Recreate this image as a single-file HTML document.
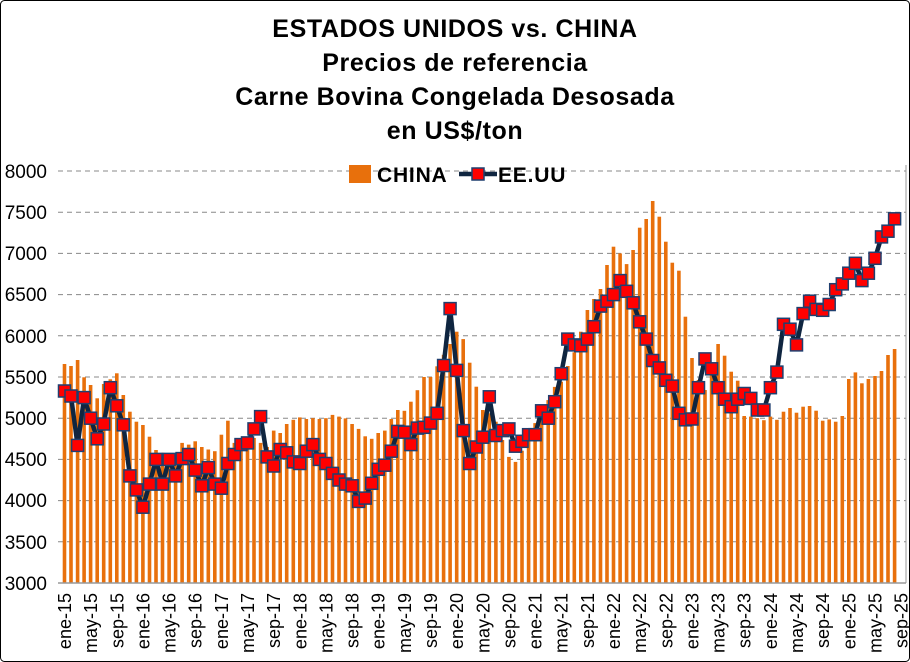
<!DOCTYPE html>
<html><head><meta charset="utf-8"><style>
html,body{margin:0;padding:0;background:#fff}
svg{display:block}
text{font-family:"Liberation Sans",Arial,sans-serif}
</style></head><body>
<svg id="s" width="910" height="662" viewBox="0 0 910 662" xmlns="http://www.w3.org/2000/svg">
<rect x="0.5" y="0.5" width="909" height="661" rx="4" fill="#fff" stroke="#000" stroke-width="1"/>
<g font-weight="bold" font-size="25" text-anchor="middle" fill="#000" letter-spacing="0.6">
<text x="455" y="37">ESTADOS UNIDOS vs. CHINA</text>
<text x="455" y="71">Precios de referencia</text>
<text x="455" y="105">Carne Bovina Congelada Desosada</text>
<text x="455" y="139">en US$/ton</text>
</g>
<g id="grid" stroke="#888" stroke-width="1" stroke-dasharray="5,4"></g>
<g id="bars" fill="#E8700C"></g>
<line x1="58" y1="583" x2="906" y2="583" stroke="#999" stroke-width="1.5"/>
<line x1="906" y1="165" x2="906" y2="583" stroke="#999" stroke-width="1"/>
<polyline id="line" fill="none" stroke="#0f2540" stroke-width="4.5" stroke-linejoin="round"/>
<g id="marks" fill="#f00" stroke="#1f3f6f" stroke-width="1.5"></g>
<g font-size="19" text-anchor="end" fill="#000">
<text x="47" y="178">8000</text><text x="47" y="219">7500</text><text x="47" y="260">7000</text>
<text x="47" y="301">6500</text><text x="47" y="343">6000</text><text x="47" y="384">5500</text>
<text x="47" y="425">5000</text><text x="47" y="466">4500</text><text x="47" y="507">4000</text>
<text x="47" y="549">3500</text><text x="47" y="590">3000</text>
</g>
<g font-size="18" text-anchor="end" fill="#000">
<text transform="translate(71,593) rotate(-90)">ene-15</text>
<text transform="translate(97.1,593) rotate(-90)">may-15</text>
<text transform="translate(123.3,593) rotate(-90)">sep-15</text>
<text transform="translate(149.4,593) rotate(-90)">ene-16</text>
<text transform="translate(175.6,593) rotate(-90)">may-16</text>
<text transform="translate(201.7,593) rotate(-90)">sep-16</text>
<text transform="translate(227.9,593) rotate(-90)">ene-17</text>
<text transform="translate(254,593) rotate(-90)">may-17</text>
<text transform="translate(280.2,593) rotate(-90)">sep-17</text>
<text transform="translate(306.3,593) rotate(-90)">ene-18</text>
<text transform="translate(332.4,593) rotate(-90)">may-18</text>
<text transform="translate(358.6,593) rotate(-90)">sep-18</text>
<text transform="translate(384.7,593) rotate(-90)">ene-19</text>
<text transform="translate(410.9,593) rotate(-90)">may-19</text>
<text transform="translate(437,593) rotate(-90)">sep-19</text>
<text transform="translate(463.2,593) rotate(-90)">ene-20</text>
<text transform="translate(489.3,593) rotate(-90)">may-20</text>
<text transform="translate(515.4,593) rotate(-90)">sep-20</text>
<text transform="translate(541.6,593) rotate(-90)">ene-21</text>
<text transform="translate(567.7,593) rotate(-90)">may-21</text>
<text transform="translate(593.9,593) rotate(-90)">sep-21</text>
<text transform="translate(620,593) rotate(-90)">ene-22</text>
<text transform="translate(646.2,593) rotate(-90)">may-22</text>
<text transform="translate(672.3,593) rotate(-90)">sep-22</text>
<text transform="translate(698.5,593) rotate(-90)">ene-23</text>
<text transform="translate(724.6,593) rotate(-90)">may-23</text>
<text transform="translate(750.7,593) rotate(-90)">sep-23</text>
<text transform="translate(776.9,593) rotate(-90)">ene-24</text>
<text transform="translate(803,593) rotate(-90)">may-24</text>
<text transform="translate(829.2,593) rotate(-90)">sep-24</text>
<text transform="translate(855.3,593) rotate(-90)">ene-25</text>
<text transform="translate(881.5,593) rotate(-90)">may-25</text>
<text transform="translate(907.6,593) rotate(-90)">sep-25</text>
</g>
<rect x="349" y="165" width="22" height="18" fill="#E8700C"/>
<text x="377" y="182" font-size="21" font-weight="bold" letter-spacing="0.8">CHINA</text>
<line x1="459" y1="174" x2="497" y2="174" stroke="#0f2540" stroke-width="4.5"/>
<rect x="472" y="168" width="12" height="12" fill="#f00" stroke="#1f3f6f" stroke-width="1.5"/>
<text x="498" y="182" font-size="21" font-weight="bold" letter-spacing="0.8">EE.UU</text>
</svg>
<script>
var cn=[5658,5634,5706,5496,5403,5241,5415,5472,5545,5281,5079,4958,
4918,4776,4614,4580,4500,4560,4700,4680,4720,4650,4620,4600,
4800,4970,4700,4660,4720,4760,4700,4650,4850,4820,4930,4980,
5010,4990,5000,4990,5000,5040,5020,4998,4930,4870,4780,4750,
4820,4850,4990,5100,5090,5200,5340,5500,5500,5630,5770,5900,
6050,5960,5673,5382,5100,5060,4958,4735,4530,4470,4605,4750,
4940,5100,5220,5380,5443,5633,5800,6050,6313,6447,6568,6859,
7081,7000,6870,7041,7312,7417,7636,7445,7142,6887,6790,6232,
5730,5464,5342,5650,5900,5758,5564,5455,5027,5020,5000,4976,
5020,4980,5079,5124,5067,5140,5148,5091,4970,4986,4958,5027,
5476,5556,5423,5476,5512,5573,5767,5840];
var us=[5330,5270,4670,5250,5000,4750,4930,5370,5150,4920,4300,4130,
3920,4200,4500,4200,4500,4300,4510,4560,4370,4180,4400,4200,
4150,4450,4560,4680,4700,4870,5020,4530,4420,4620,4580,4470,
4450,4600,4680,4500,4450,4330,4250,4200,4180,3990,4030,4210,
4380,4430,4600,4840,4830,4680,4880,4890,4940,5060,5640,6330,
5580,4850,4450,4650,4770,5260,4790,4850,4870,4660,4720,4800,
4800,5090,5000,5200,5540,5960,5890,5880,5960,6110,6360,6420,
6500,6670,6540,6400,6170,5960,5700,5610,5460,5390,5060,4980,
4990,5370,5720,5600,5370,5230,5140,5230,5300,5240,5100,5100,
5370,5560,6140,6080,5890,6270,6420,6320,6310,6380,6560,6630,
6760,6880,6670,6760,6940,7200,7270,7420];
var NS="http://www.w3.org/2000/svg";
function Y(v){return 583-(v-3000)*0.0824;}
function X(i){return 64.5+6.536*i;}
function el(t,a,p){var e=document.createElementNS(NS,t);for(var k in a)e.setAttribute(k,a[k]);document.getElementById(p).appendChild(e);}
for(var v=3500;v<=8000;v+=500){var y=Y(v).toFixed(1);el('line',{x1:58,x2:906,y1:y,y2:y},'grid');}
for(var i=0;i<cn.length;i++){var y=Y(cn[i]);el('rect',{x:(X(i)-1.8).toFixed(1),y:y.toFixed(1),width:3.6,height:(583-y).toFixed(1)},'bars');}
var pts=[];for(var i=0;i<us.length;i++){pts.push(X(i).toFixed(1)+','+Y(us[i]).toFixed(1));
el('rect',{x:(X(i)-6).toFixed(1),y:(Y(us[i])-6).toFixed(1),width:12,height:12},'marks');}
document.getElementById('line').setAttribute('points',pts.join(' '));
</script>
</body></html>
